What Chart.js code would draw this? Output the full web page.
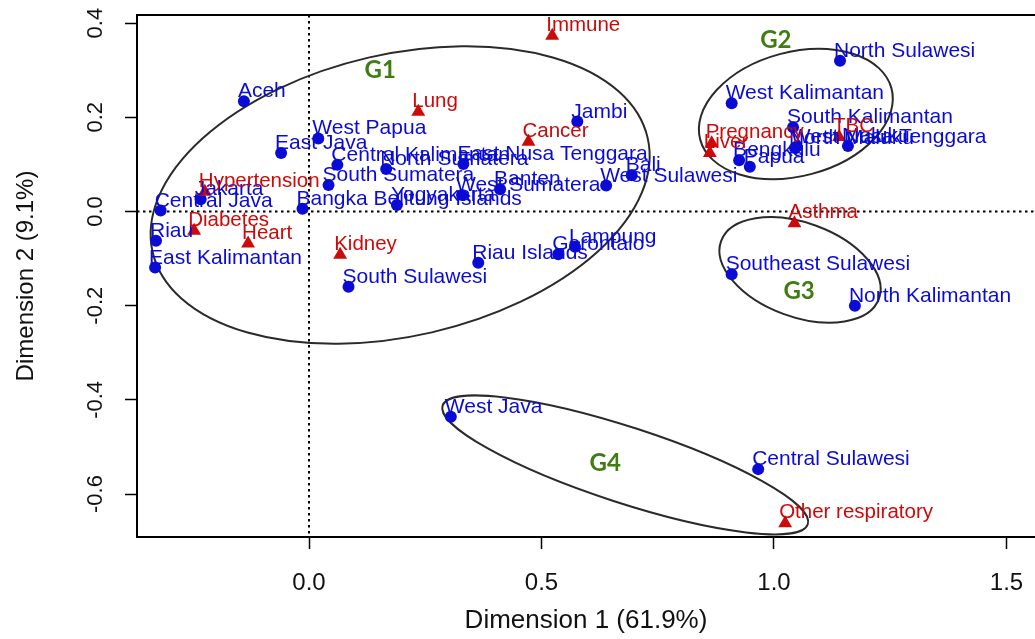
<!DOCTYPE html>
<html><head><meta charset="utf-8">
<script src="https://cdn.jsdelivr.net/npm/chart.js@4.4.1/dist/chart.umd.min.js"></script>
<style>html,body{margin:0;padding:0;background:#fff;} #wrap{width:1035px;height:639px;}</style>
</head><body><div id="wrap"><canvas id="c" width="1035" height="639"></canvas></div>
<script>
// ---------- data ----------
const provinceNames = ['Aceh','West Papua','East Java','Central Kalimantan','North Sumatera','East Nusa Tenggara','South Sumatera','Bangka Belitung Islands','Yogyakarta','West Sumatera','Banten','Jakarta','Central Java','Riau','East Kalimantan','South Sulawesi','Riau Islands','Gorontalo','Lampung','Jambi','West Sulawesi','Bali','West Kalimantan','North Sulawesi','South Kalimantan','West Nusa Tenggara','North Maluku','Maluku','Bengkulu','Papua','Southeast Sulawesi','North Kalimantan','West Java','Central Sulawesi'];
const provinceDim1 = [-0.140,0.020,-0.060,0.061,0.166,0.332,0.042,-0.014,0.189,0.329,0.411,-0.233,-0.319,-0.329,-0.331,0.085,0.364,0.536,0.572,0.577,0.639,0.694,0.909,1.142,1.041,1.049,1.045,1.159,0.925,0.948,0.909,1.174,0.305,0.966];
const provinceDim2 = [0.234,0.155,0.124,0.099,0.090,0.101,0.056,0.006,0.014,0.035,0.047,0.026,0.002,-0.062,-0.119,-0.160,-0.109,-0.091,-0.075,0.191,0.055,0.077,0.230,0.320,0.179,0.138,0.135,0.139,0.109,0.095,-0.133,-0.200,-0.436,-0.547];
const diseaseNames = ['Immune','Lung','Cancer','Hypertension','Diabetes','Heart','Kidney','Pregnancy','Liver','TBC','Asthma','Other respiratory'];
const diseaseDim1 = [0.523,0.235,0.472,-0.224,-0.247,-0.131,0.067,0.866,0.862,1.140,1.044,1.024];
const diseaseDim2 = [0.373,0.212,0.148,0.042,-0.041,-0.068,-0.092,0.145,0.124,0.158,-0.025,-0.662];
const xTickValues = [0.0,0.5,1.0,1.5];
const yTickValues = [-0.6,-0.4,-0.2,0.0,0.2,0.4];
const groupNames = ['G1','G2','G3','G4'];
const groupLabelDim1 = [0.153,1.004,1.054,0.637];
const groupLabelDim2 = [0.300,0.364,-0.169,-0.534];
const groupCenterDim1 = [0.196,1.047,1.056,0.680];
const groupCenterDim2 = [0.035,0.207,-0.124,-0.538];
const xTitle = 'Dimension 1 (61.9%)';
const yTitle = 'Dimension 2 (9.1%)';

// ---------- styles ----------
const ellipseShape = [ {a:254,b:141,rot:-13}, {a:99,b:62,rot:-15}, {a:84,b:47,rot:20}, {a:192,b:38,rot:18} ];
const BLUE = '#0b0bd6', RED = '#cc0a0a', GREEN = '#3f7d12';
const labelFont = '21px "Liberation Sans", Arial, sans-serif';
const redLabelFont = '20.5px "Liberation Sans", Arial, sans-serif';
const xAxisFont = '24px "Liberation Sans", Arial, sans-serif';
const yAxisFont = '22px "Liberation Sans", Arial, sans-serif';
const xTitleFont = '26px "Liberation Sans", Arial, sans-serif';
const yTitleFont = '24px "Liberation Sans", Arial, sans-serif';
const groupFont = 'bold 24px Lato, "Open Sans", sans-serif';

const overlay = {
  id:'overlay',
  beforeDatasetsDraw(chart){
    const {ctx, chartArea:ca, scales:{x,y}} = chart;
    ctx.save();
    ctx.strokeStyle='#000'; ctx.lineWidth=2; ctx.setLineDash([2.5,3.5]);
    const x0 = x.getPixelForValue(0), y0 = y.getPixelForValue(0);
    ctx.beginPath(); ctx.moveTo(x0, ca.top); ctx.lineTo(x0, ca.bottom); ctx.stroke();
    ctx.beginPath(); ctx.moveTo(ca.left, y0); ctx.lineTo(ca.right, y0); ctx.stroke();
    ctx.setLineDash([]);
    ctx.strokeStyle='#2a2a2a'; ctx.lineWidth=2;
    groupNames.forEach((g,i)=>{
      const cx = x.getPixelForValue(groupCenterDim1[i]), cy = y.getPixelForValue(groupCenterDim2[i]);
      const e = ellipseShape[i];
      ctx.beginPath(); ctx.ellipse(cx, cy, e.a, e.b, e.rot*Math.PI/180, 0, Math.PI*2); ctx.stroke();
    });
    ctx.restore();
  },
  afterDatasetsDraw(chart){
    const {ctx, scales:{x,y}} = chart;
    ctx.save();
    ctx.textAlign='left'; ctx.textBaseline='alphabetic';
    const m0 = chart.getDatasetMeta(0), m1 = chart.getDatasetMeta(1);
    ctx.font = labelFont; ctx.fillStyle = BLUE;
    m0.data.forEach((p,i)=>{ ctx.fillText(provinceNames[i], p.x-6, p.y-4); });
    ctx.font = redLabelFont; ctx.fillStyle = RED;
    m1.data.forEach((p,i)=>{ ctx.fillText(diseaseNames[i], p.x-6, p.y-5); });
    ctx.font = groupFont; ctx.fillStyle = GREEN; ctx.textAlign='center'; ctx.textBaseline='middle';
    groupNames.forEach((g,i)=>{ ctx.fillText(g, x.getPixelForValue(groupLabelDim1[i]), y.getPixelForValue(groupLabelDim2[i])); });
    ctx.restore();
  },
  afterDraw(chart){
    const {ctx, chartArea:ca, scales:{x,y}} = chart;
    ctx.save();
    ctx.strokeStyle='#000'; ctx.lineWidth=2;
    ctx.beginPath(); ctx.moveTo(ca.right+2, ca.top); ctx.lineTo(ca.left, ca.top); ctx.lineTo(ca.left, ca.bottom); ctx.lineTo(ca.right+2, ca.bottom); ctx.stroke();
    ctx.fillStyle='#111'; ctx.textAlign='center'; ctx.textBaseline='middle';
    const fmt = v => Math.abs(v)<1e-9 ? '0.0' : v.toFixed(1);
    ctx.font = xAxisFont;
    x.ticks.forEach(t=>{ ctx.fillText(fmt(t.value), x.getPixelForValue(t.value), 583); });
    ctx.font = yAxisFont;
    y.ticks.forEach(t=>{
      ctx.save(); ctx.translate(96, y.getPixelForValue(t.value)); ctx.rotate(-Math.PI/2);
      ctx.fillText(fmt(t.value), 0, 0); ctx.restore();
    });
    ctx.font = xTitleFont;
    ctx.fillText(xTitle, (ca.left+ca.right)/2, 621);
    ctx.font = yTitleFont;
    ctx.save(); ctx.translate(26, (ca.top+ca.bottom)/2); ctx.rotate(-Math.PI/2); ctx.fillText(yTitle, 0, 0); ctx.restore();
    ctx.restore();
  }
};

new Chart(document.getElementById('c'), {
  type:'scatter',
  data:{datasets:[
    {label:'Provinces', order:1, data: provinceNames.map((n,i)=>({x:provinceDim1[i], y:provinceDim2[i]})),
     pointStyle:'circle', pointRadius:6, backgroundColor:BLUE, borderColor:BLUE, borderWidth:0},
    {label:'Diseases', order:0, data: diseaseNames.map((n,i)=>({x:diseaseDim1[i], y:diseaseDim2[i]})),
     pointStyle:'triangle', pointRadius:8, backgroundColor:RED, borderColor:RED, borderWidth:0}
  ]},
  options:{
    responsive:false, animation:false, events:[],
    layout:{autoPadding:false, padding:{top:15,left:0,right:0,bottom:0}},
    plugins:{legend:{display:false}, tooltip:{enabled:false}},
    scales:{
      x:{type:'linear', min:-0.3699, max:1.5613,
         afterBuildTicks(s){ s.ticks = xTickValues.map(v=>({value:v})); },
         afterFit(s){ s.height = 102; },
         ticks:{display:false},
         grid:{drawOnChartArea:false, drawTicks:true, tickLength:12, tickColor:'#000', tickWidth:1.5},
         border:{display:false}},
      y:{type:'linear', min:-0.6911, max:0.4172,
         afterBuildTicks(s){ s.ticks = yTickValues.map(v=>({value:v})); },
         afterFit(s){ s.width = 137; },
         ticks:{display:false},
         grid:{drawOnChartArea:false, drawTicks:true, tickLength:12, tickColor:'#000', tickWidth:1.5},
         border:{display:false}}
    }
  },
  plugins:[overlay]
});
</script></body></html>
